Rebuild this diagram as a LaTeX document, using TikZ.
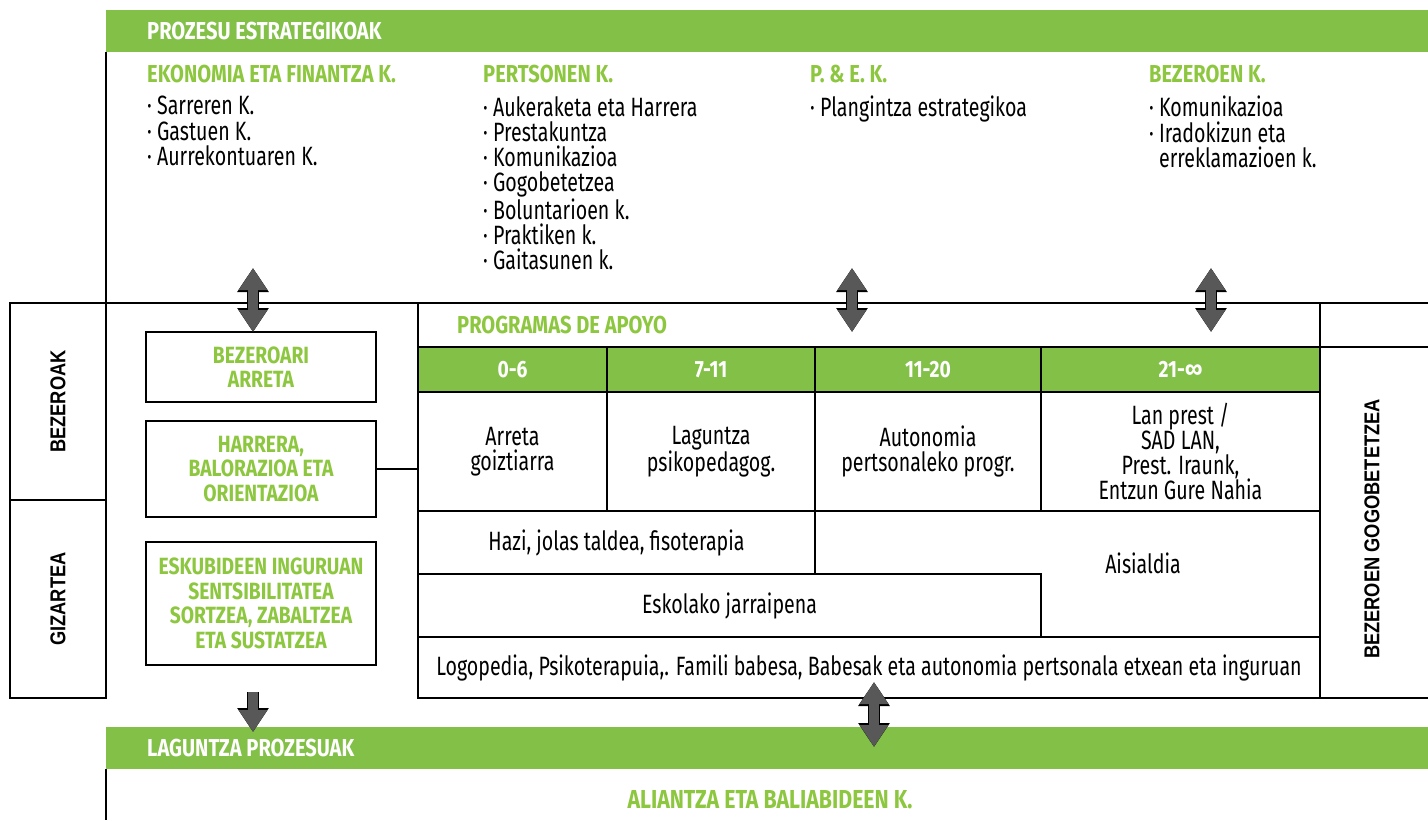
\documentclass[tikz,border=0pt]{standalone}
\usepackage{fontspec}
\setmainfont{Fira Sans}[FakeStretch=0.74]
\newfontfamily\headfont{Fira Sans}[FakeStretch=0.82]
\newfontfamily\sidefont{Liberation Sans}[FakeStretch=0.85]
\usetikzlibrary{arrows.meta, positioning}
\definecolor{barGreen}{RGB}{130,192,72}
\definecolor{textGreen}{RGB}{141,198,63}
\definecolor{arrowGray}{RGB}{88,88,88}

\begin{document}
\begin{tikzpicture}[x=1pt, y=-1pt,
  frame/.style={draw, line width=1.1pt},
  bar/.style={fill=barGreen, anchor=north west, minimum width=1322pt, minimum height=42pt, inner sep=0pt, outer sep=0pt},
  bartitle/.style={anchor=west, text=white, inner sep=0pt, font=\headfont\bfseries\fontsize{24.5}{26}\selectfont},
  head/.style={anchor=west, text=textGreen, inner sep=0pt, font=\headfont\bfseries\fontsize{24.5}{26}\selectfont},
  items/.style={anchor=north west, align=left, inner sep=0pt, font=\fontsize{26.5}{25.2}\selectfont},
  greenbox/.style={frame, minimum width=230pt, outer sep=0pt, align=center, text=textGreen, font=\headfont\bfseries\fontsize{23.5}{24.5}\selectfont},
  sidebox/.style={frame, minimum width=96pt, outer sep=0pt},
  sidelabel/.style={rotate=90, inner sep=0pt, font=\sidefont\bfseries\fontsize{21.5}{22}\selectfont},
  cell/.style={frame, outer sep=0pt, inner sep=2pt, align=center, font=\fontsize{26.5}{25.2}\selectfont},
  hcell/.style={cell, fill=barGreen, text=white, minimum height=45pt, font=\headfont\bfseries\fontsize{23.5}{24}\selectfont},
  dblarrow/.style={draw=arrowGray, line width=10pt,
    arrows={Triangle[length=22pt,width=27pt]-Triangle[length=22pt,width=27pt]},
    preaction={draw=black, line width=12pt, arrows={Triangle[length=24pt,width=30pt]-Triangle[length=24pt,width=30pt]}}},
  downarrow/.style={draw=arrowGray, line width=10pt,
    arrows={-Triangle[length=22pt,width=27pt]},
    preaction={draw=black, line width=12pt, arrows={-Triangle[length=24pt,width=30pt]}}}
]
\useasboundingbox (0,0) rectangle (1428,820);

% prozesu estrategikoak
\node[bar] (topbar) at (106,10) {};
\node[bartitle] (toptitle) at ([xshift=41pt]topbar.west) {PROZESU ESTRATEGIKOAK};
\node[head] (ekon) at (147,74) {EKONOMIA ETA FINANTZA K.};
\node[items] (ekonlist) at ([yshift=-13pt]ekon.south west) {·\ Sarreren K.\\·\ Gastuen K.\\·\ Aurrekontuaren K.};
\node[head] (pert) at (483,74) {PERTSONEN K.};
\node[items] (pertlist) at ([yshift=-13pt]pert.south west) {·\ Aukeraketa eta Harrera\\·\ Prestakuntza\\·\ Komunikazioa\\·\ Gogobetetzea\\·\ Boluntarioen k.\\·\ Praktiken k.\\·\ Gaitasunen k.};
\node[head] (pe) at (810,74) {P. \& E. K.};
\node[items] (pelist) at ([yshift=-13pt]pe.south west) {·\ Plangintza estrategikoa};
\node[head] (bez) at (1149,74) {BEZEROEN K.};
\node[items] (bezlist) at ([yshift=-13pt]bez.south west) {·\ Komunikazioa\\·\ Iradokizun eta\\\hphantom{·\ }erreklamazioen k.};

% bezeroak / gizartea
\node[sidebox, minimum height=197pt, anchor=north west] (bezbox) at (10,303) {};
\node[sidebox, minimum height=198pt, below=0pt of bezbox] (gizbox) {};
\node[sidelabel] (bezlabel) at (bezbox.center) {BEZEROAK};
\node[sidelabel] (gizlabel) at (gizbox.center) {GIZARTEA};
\draw[frame] (bezbox.north west) -- (1428,303);
\draw[frame] (topbar.south west) -- (bezbox.north east);

\node[greenbox, minimum height=70pt, anchor=north west] (bezeroari) at (146,332) {BEZEROARI\\ARRETA};
\node[greenbox, minimum height=96pt, below=19pt of bezeroari] (harrera) {HARRERA,\\BALORAZIOA ETA\\ORIENTAZIOA};
\node[greenbox, minimum height=123pt, below=25pt of harrera] (eskubide) {ESKUBIDEEN INGURUAN\\SENTSIBILITATEA\\SORTZEA, ZABALTZEA\\ETA SUSTATZEA};

% programas de apoyo
\node[frame, outer sep=0pt, minimum width=902pt, minimum height=395pt, anchor=north west] (prog) at (418,303) {};
\node[head] (apoyo) at (457,325) {PROGRAMAS DE APOYO};
\node[hcell, minimum width=189pt, anchor=north west] (h06) at (418,347) {0-6};
\node[hcell, minimum width=208pt, right=0pt of h06] (h711) {7-11};
\node[hcell, minimum width=226pt, right=0pt of h711] (h1120) {11-20};
\node[hcell, minimum width=279pt, right=0pt of h1120] (h21) {21-∞};
\node[cell, minimum width=189pt, minimum height=119pt, below=0pt of h06] (arreta) {Arreta\\goiztiarra};
\node[cell, minimum width=208pt, minimum height=119pt, below=0pt of h711] (laguntza) {Laguntza\\psikopedagog.};
\node[cell, minimum width=226pt, minimum height=119pt, below=0pt of h1120] (autonomia) {Autonomia\\pertsonaleko progr.};
\node[cell, minimum width=279pt, minimum height=119pt, below=0pt of h21] (lanprest) {Lan prest /\\SAD LAN,\\Prest. Iraunk,\\Entzun Gure Nahia};
\node[cell, minimum width=397pt, minimum height=63pt, anchor=north west] (hazi) at (arreta.south west) {Hazi, jolas taldea, fisoterapia};
\node[cell, minimum width=623pt, minimum height=63pt, anchor=north west] (eskola) at (hazi.south west) {Eskolako jarraipena};
\node[cell, minimum width=902pt, minimum height=61pt, anchor=north west] (logo) at (eskola.south west) {Logopedia, Psikoterapuia,. Famili babesa, Babesak eta autonomia pertsonala etxean eta inguruan};
\node[cell, draw=none] (aisialdia) at (1143,563) {Aisialdia};

% bezeroen gogobetetzea
\draw[frame] (h21.north east) -- (1428,347);
\draw[frame] (prog.south east) -- (1428,698);
\node[sidelabel] (rightlabel) at (1372,529) {BEZEROEN GOGOBETETZEA};

\draw[frame] (harrera.east) -- (harrera.east -| prog.west);

% laguntza prozesuak
\node[bar] (botbar) at (106,727) {};
\node[bartitle] (bottitle) at ([xshift=41pt]botbar.west) {LAGUNTZA PROZESUAK};
\draw[frame] (botbar.south west) -- (106,820);
\node[head, anchor=center, font=\headfont\bfseries\fontsize{26}{28}\selectfont] (aliantza) at (770,800) {ALIANTZA ETA BALIABIDEEN K.};

% arrows
\coordinate (ekonarr) at (253,268);
\coordinate (pearr) at (852,268);
\coordinate (bezarr) at (1211,268);
\coordinate (logoarr) at (874,682);
\coordinate (logoend) at (874,747);
\coordinate (downarr) at (253,692);
\coordinate (downend) at (253,732);
\draw[dblarrow] (ekonarr) -- (ekonarr |- bezeroari.north);
\draw[dblarrow] (pearr) -- (pearr |- bezeroari.north);
\draw[dblarrow] (bezarr) -- (bezarr |- bezeroari.north);
\draw[dblarrow] (logoarr) -- (logoend);
\draw[downarrow] (downarr) -- (downend);
\end{tikzpicture}
\end{document}
